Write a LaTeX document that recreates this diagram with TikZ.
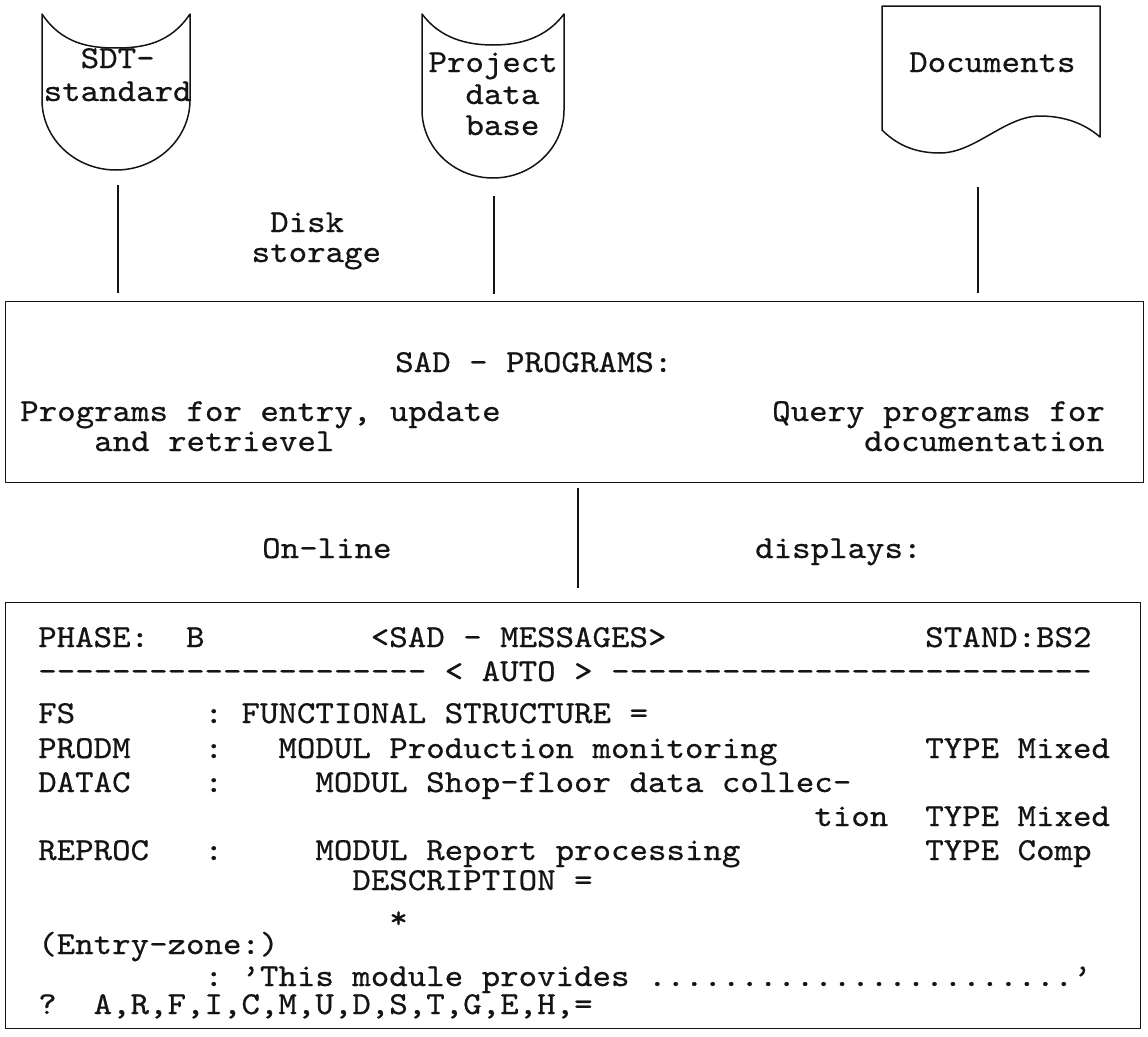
\documentclass[tikz,border=0pt]{standalone}
\usepackage{fontspec}
\setmonofont{lmmono10-regular.otf}[Ligatures=ResetAll, FakeStretch=1.1, FakeBold=0.6]
\definecolor{ink}{gray}{0.08}
% place typed text by column of the typewriter grid
\newcommand\tline[4]{\node[type] (#1) at ({38+18.48*#2},#3) {#4};}
\begin{document}
\begin{tikzpicture}[x=1pt,y=-1pt,
  type/.style={font=\ttfamily\fontsize{32}{33}\selectfont, inner sep=0pt, anchor=base west, text=ink},
  frame/.style={draw=ink, line width=1.4pt, inner sep=0pt},
  outline/.style={draw=ink, line width=1.5pt, line join=round},
  link/.style={draw=ink, line width=1.4pt}]
\useasboundingbox (0,0) rectangle (1148,1036);

% --- disk storage symbols ---
\draw[outline] (42,14) .. controls (62,44) and (90,48) .. (116,48)
  .. controls (142,48) and (170,44) .. (190,14) -- (190,100)
  arc[start angle=0, end angle=180, x radius=74, y radius=70] -- cycle;
\node[type] (sdt1) at (80.5,68) {SDT-};
\node[type] (sdt2) at (43.5,101) {standard};
\coordinate (sdt-foot) at (118,185);

\draw[outline] (422,14) .. controls (440,38) and (466,45) .. (493,45)
  .. controls (520,45) and (546,38) .. (564,14) -- (564,110)
  arc[start angle=0, end angle=180, x radius=71, y radius=68] -- cycle;
\node[type] (pdb1) at (428.3,72) {Project};
\node[type] (pdb2) at (465.3,104) {data};
\node[type] (pdb3) at (465.3,135) {base};
\coordinate (pdb-foot) at (494,196);

% --- document symbol ---
\draw[outline] (882,130) -- (882,6) -- (1100,6) -- (1100,137)
  .. controls (1085,124) and (1065,116) .. (1040,116)
  .. controls (1005,116) and (975,153) .. (940,153)
  .. controls (920,153) and (900,148) .. (882,130) -- cycle;
\node[type] (doc) at (909,72) {Documents};
\coordinate (doc-foot) at (978,187);

\node[type] (disk1) at (270,232) {Disk};
\node[type] (disk2) at (251.5,262) {storage};

% --- program box ---
\node[frame, anchor=north west, minimum width=1138pt, minimum height=181pt] (prog) at (5,301) {};
\node[type] (sadp) at (395,372) {SAD - PROGRAMS:};
\node[type] (entry1) at (20,421) {Programs for entry, update};
\node[type] (entry2) at (94,451) {and retrievel};
\node[type] (query1) at (772,421) {Query programs for};
\node[type] (query2) at (864,451) {documentation};

\draw[link, shorten >=8pt] (sdt-foot) -- (sdt-foot |- prog.north);
\draw[link, shorten >=7pt] (pdb-foot) -- (pdb-foot |- prog.north);
\draw[link, shorten >=8pt] (doc-foot) -- (doc-foot |- prog.north);

\node[type] (online) at (262,558) {On-line};
\node[type] (displays) at (755,558) {displays:};

% --- screen box ---
\node[frame, anchor=north west, minimum width=1135pt, minimum height=426pt] (screen) at (5,602) {};
\coordinate (mid) at (578,0);
\draw[link, shorten <=5pt, shorten >=14pt] (prog.south -| mid) -- (screen.north -| mid);

\tline{r1a}{0}{647}{PHASE:}
\tline{r1b}{8}{647}{B}
\tline{r1c}{18}{647}{<SAD - MESSAGES>}
\tline{r1d}{48}{647}{STAND:BS2}
\tline{r2a}{0}{681}{---------------------}
\tline{r2b}{22}{681}{< AUTO >}
\tline{r2c}{31}{681}{--------------------------}
\tline{r3a}{0}{723}{FS}
\tline{r3b}{9}{723}{:}
\tline{r3c}{11}{723}{FUNCTIONAL STRUCTURE =}
\tline{r4a}{0}{758}{PRODM}
\tline{r4b}{9}{758}{:}
\tline{r4c}{13}{758}{MODUL Production monitoring}
\tline{r4d}{48}{758}{TYPE Mixed}
\tline{r5a}{0}{792}{DATAC}
\tline{r5b}{9}{792}{:}
\tline{r5c}{15}{792}{MODUL Shop-floor data collec-}
\tline{r6a}{42}{826}{tion}
\tline{r6b}{48}{826}{TYPE Mixed}
\tline{r7a}{0}{860}{REPROC}
\tline{r7b}{9}{860}{:}
\tline{r7c}{15}{860}{MODUL Report processing}
\tline{r7d}{48}{860}{TYPE Comp}
\tline{r8a}{17}{890}{DESCRIPTION =}
\tline{r9a}{19}{928}{*}
\tline{r10a}{0}{954}{(Entry-zone:)}
\tline{r11a}{9}{986}{:}
\tline{r11b}{11}{986}{’This module provides .......................’}
\tline{r12a}{0}{1014}{?}
\tline{r12b}{3}{1014}{A,R,F,I,C,M,U,D,S,T,G,E,H,=}
\end{tikzpicture}
\end{document}
